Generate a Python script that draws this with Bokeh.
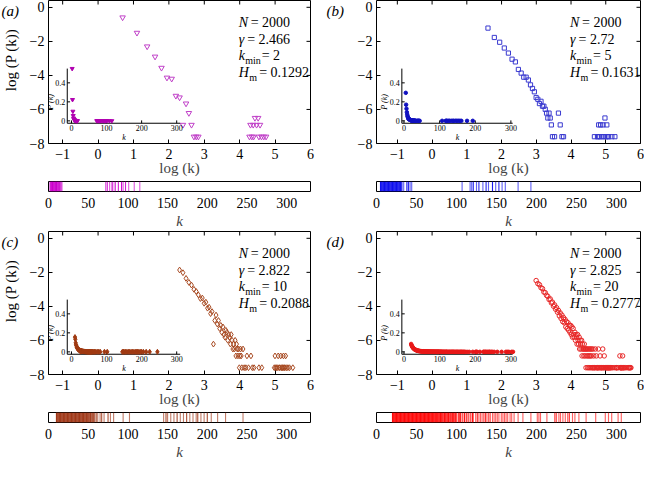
import numpy as np
from bokeh.plotting import figure
from bokeh.layouts import column, row
from bokeh.models import Range1d, Label, FixedTicker, ColumnDataSource
from bokeh.embed import file_html
from bokeh.resources import INLINE
from bokeh.core.properties import value

SERIF = "Liberation Serif"
N_NODES = 2000

# ---------------- data (degree k, number of nodes with degree k) ----------------
deg_a = [2, 3, 4, 5, 6, 7, 8, 9, 10, 11, 12, 13, 14, 15, 16, 17,
         72, 74, 77, 80, 81, 84, 88, 92, 94, 97, 101, 108, 115]
cnt_a = [1100, 446, 200, 110, 57, 32, 30, 11, 10, 2, 7, 4, 2, 1, 1, 1,
         1, 2, 1, 2, 1, 3, 2, 3, 1, 2, 1, 1, 1]

deg_b = [5, 6, 7, 8, 9, 10, 11, 12, 13, 14, 15, 16, 17, 18, 19, 20, 21, 22, 23, 24,
         25, 26, 27, 28, 29, 30, 31, 32, 34, 38, 40, 42, 44,
         107, 117, 119, 121, 125, 128, 133, 137, 140, 145, 149, 153, 157, 161, 177, 193]
cnt_b = [590, 340, 257, 183, 136, 95, 81, 52, 42, 33, 33, 28, 21, 17, 14, 10, 9, 7, 8, 6,
         6, 5, 4, 3, 4, 3, 2, 1, 1, 4, 2, 1, 1,
         1, 1, 1, 2, 1, 2, 1, 2, 1, 3, 1, 2, 1, 1, 1, 1]

deg_c = [10, 11, 12, 13, 14, 15, 16, 17, 18, 19, 20, 21, 22, 23, 24, 25, 26, 27, 28, 29,
         30, 31, 32, 33, 34, 35, 36, 37, 38, 39, 40, 41, 42, 43, 44, 45, 46, 47, 48, 49,
         50, 51, 52, 53, 54, 55, 56, 57, 58,
         60, 62, 65, 67, 70, 75, 78, 82, 94, 102,
         145, 148, 150, 154, 158, 162, 166, 170, 174, 178, 182, 186, 188, 192, 196, 200,
         205, 213, 223, 245]
cnt_c = [311, 265, 190, 150, 128, 100, 88, 72, 58, 60, 44, 47, 33, 35, 24, 27, 4, 16, 22, 13,
         16, 10, 12, 8, 11, 7, 6, 9, 8, 5, 7, 6, 4, 7, 5, 3, 4, 3, 5, 2,
         4, 3, 2, 3, 1, 2, 3, 2, 1,
         3, 1, 1, 2, 1, 2, 1, 1, 1, 1,
         1, 2, 1, 1, 1, 2, 1, 1, 2, 1, 1, 1, 2, 1, 1, 2,
         1, 1, 1, 1]

deg_d = [20, 21, 22, 23, 24, 25, 26, 27, 28, 29, 30, 31, 32, 33, 34, 35, 36, 37, 38, 39,
         40, 41, 42, 43, 44, 45, 46, 47, 48, 49, 50, 51, 52, 53, 54, 55, 56, 57, 58, 59,
         60, 61, 62, 63, 64, 65, 66, 67, 68, 69, 70, 71, 72, 73, 74, 75, 76, 77, 78, 79,
         80, 81, 82, 83, 84, 85, 86, 87, 88, 89, 90, 91, 92, 93, 94, 95,
         96, 97, 98, 99, 100, 102, 103, 104, 105, 107, 108, 110, 112, 113, 115,
         117, 118, 120, 121, 124, 126, 128, 130, 132, 134, 136, 138, 140, 142, 145,
         147, 149, 151, 153, 156, 158, 160, 162, 164, 167, 169, 172, 177, 183, 193,
         201, 203, 205, 213, 223, 225, 228, 230, 233, 236, 239, 241, 245, 248, 253,
         262, 274, 286, 290, 294, 302, 306]
cnt_d = [167, 140, 131, 110, 104, 85, 82, 70, 66, 55, 57, 45, 47, 37, 40, 31, 34, 26, 29, 21,
         25, 18, 22, 15, 19, 14, 17, 11, 15, 10, 14, 9, 12, 8, 12, 7, 11, 6, 10, 7,
         6, 8, 5, 7, 6, 4, 7, 5, 4, 6, 3, 5, 4, 3, 5, 2, 4, 3, 3, 2,
         4, 3, 2, 3, 1, 3, 2, 3, 1, 2, 3, 1, 2, 3, 1, 2,
         3, 1, 2, 3, 1, 1, 3, 1, 2, 1, 1, 3, 1, 2, 1,
         1, 1, 3, 1, 1, 2, 1, 1, 1, 1, 3, 1, 1, 2, 1,
         1, 1, 1, 1, 1, 1, 1, 1, 1, 1, 1, 1, 1, 1, 1,
         1, 1, 1, 1, 2, 1, 1, 1, 1, 1, 1, 2, 1, 1, 1,
         1, 1, 1, 1, 1, 1, 1]

stats_a = ["2000", "2.466", "2", "0.1292"]
stats_b = ["2000", "2.72", "5", "0.1631"]
stats_c = ["2000", "2.822", "10", "0.2088"]
stats_d = ["2000", "2.825", "20", "0.2777"]

main_xticks = [-1, 0, 1, 2, 3, 4, 5, 6]
main_yticks = [-8, -6, -4, -2, 0]
strip_ticks = [0, 50, 100, 150, 200, 250, 300]
inset_xticks = [0, 100, 200, 300]
inset_xlabels = ["0", "100", "200", "300"]
inset_yticks = [0, 0.2, 0.4]
inset_ylabels = ["0", "0.2", "0.4"]

Y_TOP = 0.4
X_END = 6
MAIN_H = 178
FRAME_BOTTOM = 34


def minus(v):
    return str(v).replace("-", "\u2212")


def style_axis(ax, ticks, size="14px"):
    ax.ticker = FixedTicker(ticks=ticks)
    ax.major_label_overrides = {t: minus(t) for t in ticks}
    ax.major_tick_in = 4
    ax.major_tick_out = 0
    ax.minor_tick_line_color = None
    ax.axis_line_color = None
    ax.major_tick_line_color = "black"
    ax.major_label_text_font = SERIF
    ax.major_label_text_font_size = size
    ax.major_label_text_color = "black"
    ax.major_label_standoff = 5


def lab(p, x, y, text, size="14px", italic=False, dx=0):
    p.add_layout(Label(x=x, y=y, text=text, x_offset=dx, text_font=SERIF,
                       text_font_size=size, text_font_style="italic" if italic else "normal",
                       text_baseline="middle", text_align="left", text_color="black"))


def tag_panel(tag, width, tag_x, with_ylabel):
    # narrow strip left of a main panel: holds the panel tag and the y-axis title
    t = figure(width=width, height=MAIN_H, x_range=Range1d(0, width), y_range=Range1d(MAIN_H, 0),
               output_backend="svg", toolbar_location=None, min_border=0,
               min_border_left=0, min_border_right=0, min_border_top=0, min_border_bottom=0)
    t.axis.visible = False
    t.grid.visible = False
    t.outline_line_color = None
    t.text(x=[tag_x], y=[13], text=[tag], text_align="left", text_baseline="middle",
           text_font=value(SERIF), text_font_size="15px", text_font_style="italic",
           text_color="black")
    if with_ylabel:
        t.text(x=[10], y=[74], text=["log (P (k))"], angle=np.pi / 2,
               text_align="center", text_baseline="middle", text_font=value(SERIF),
               text_font_size="15px", text_color="black")
    return t


def main_panel(deg, cnt, color, icolor, marker, msize, imarker, isize, stats,
               xstart, width, bl, br, ixsrc):
    deg = np.asarray(deg, dtype=float)
    cnt = np.asarray(cnt, dtype=float)
    P = cnt / N_NODES
    p = figure(width=width, height=MAIN_H, x_range=Range1d(xstart, X_END), y_range=Range1d(-8, Y_TOP),
               output_backend="svg", toolbar_location=None,
               min_border_left=bl, min_border_right=br, min_border_top=0,
               min_border_bottom=FRAME_BOTTOM)
    p.outline_line_color = "black"
    p.outline_line_width = 1
    p.grid.visible = False
    style_axis(p.xaxis[0], main_xticks)
    style_axis(p.yaxis[0], main_yticks)
    p.yaxis.major_label_standoff = 4
    p.xaxis.axis_label = "log (k)"
    p.xaxis.axis_label_text_font = SERIF
    p.xaxis.axis_label_text_font_size = "15px"
    p.xaxis.axis_label_text_font_style = "normal"
    p.xaxis.axis_label_standoff = -2

    # mirrored inward ticks on the top and right edges of the box
    p.ray(x=main_xticks, y=[Y_TOP] * len(main_xticks), length=4, length_units="screen",
          angle=-np.pi / 2, line_color="black", line_width=1)
    p.ray(x=[X_END] * len(main_yticks), y=main_yticks, length=4, length_units="screen",
          angle=np.pi, line_color="black", line_width=1)

    p.scatter(np.log(deg), np.log(P), marker=marker, size=msize, fill_color=None,
              line_color=color, line_width=1)

    # statistics text
    x0 = 3.97
    ys = [-0.9, -1.9, -2.85, -3.85]
    lab(p, x0, ys[0], "N", italic=True)
    lab(p, x0, ys[0], "= " + stats[0], dx=12)
    lab(p, x0, ys[1], "\u03b3", italic=True)
    lab(p, x0, ys[1], "= " + stats[1], dx=8.5)
    lab(p, x0, ys[2], "k", italic=True)
    lab(p, x0, ys[2] - 0.27, "min", size="10px", dx=6.5)
    lab(p, x0, ys[2], "= " + stats[2], dx=23)
    lab(p, x0, ys[3], "H", italic=True)
    lab(p, x0, ys[3] - 0.27, "m", size="10px", dx=10.5)
    lab(p, x0, ys[3], "= " + stats[3], dx=20.5)

    # inset: P(k) against k
    xs0, xs1 = ixsrc
    ys0, ys1 = -0.025, 0.55
    sub = p.subplot(x_source=Range1d(xs0, xs1), y_source=Range1d(ys0, ys1),
                    x_target=Range1d(-0.87, 2.32), y_target=Range1d(-6.81, -3.6))
    sub.segment(x0=[xs0, xs0], y0=[ys0, ys0], x1=[xs1, xs0], y1=[ys0, ys1],
                line_color="black", line_width=1)
    sub.segment(x0=inset_xticks, y0=[ys0] * 4, x1=inset_xticks, y1=[ys0 + 0.03] * 4,
                line_color="black", line_width=1)
    sub.segment(x0=[xs0] * 3, y0=inset_yticks, x1=[xs0 + 8] * 3, y1=inset_yticks,
                line_color="black", line_width=1)
    sub.text(x=inset_xticks, y=[ys0] * 4, text=inset_xlabels, text_align="center",
             text_baseline="top", y_offset=2, text_font=value(SERIF),
             text_font_size="8px", text_color="black")
    sub.text(x=[xs0] * 3, y=inset_yticks, text=inset_ylabels, text_align="right",
             text_baseline="middle", x_offset=-2, text_font=value(SERIF),
             text_font_size="8px", text_color="black")
    sub.text(x=[150], y=[ys0], text=["k"], text_align="center", text_baseline="top",
             y_offset=10, text_font=value(SERIF), text_font_size="8px",
             text_font_style="italic", text_color="black")
    sub.text(x=[xs0], y=[0.2], text=["P (k)"], text_align="center", text_baseline="middle",
             x_offset=-17, angle=np.pi / 2, text_font=value(SERIF), text_font_size="8px",
             text_font_style="italic", text_color="black")
    sub.scatter(deg, P, marker=imarker, size=isize, fill_color=icolor, line_color=icolor)
    return p


def strip_panel(deg, cnt, color, bl, br):
    deg = np.asarray(deg, dtype=float)
    cnt = np.asarray(cnt, dtype=float)
    src = ColumnDataSource(dict(k=deg, a=1 - 0.35 ** cnt))
    s = figure(width=322, height=53, x_range=Range1d(0, 330), y_range=Range1d(0, 1),
               output_backend="svg", toolbar_location=None,
               min_border_left=bl, min_border_right=br, min_border_top=3, min_border_bottom=37)
    s.outline_line_color = "black"
    s.outline_line_width = 1
    s.grid.visible = False
    s.yaxis.visible = False
    s.vbar(x="k", top=1, bottom=0, width=1.4, fill_color=color, fill_alpha="a",
           line_color=None, source=src)
    ax = s.xaxis[0]
    style_axis(ax, strip_ticks)
    ax.major_tick_in = 0
    ax.major_label_standoff = 6
    ax.axis_label = "k"
    ax.axis_label_text_font = SERIF
    ax.axis_label_text_font_size = "15px"
    ax.axis_label_text_font_style = "italic"
    ax.axis_label_standoff = 2
    return s


# left column: tag strip 22 px + main 300 px (frame 262); right: 24 + 298 (frame 264)
TL, TR = 22, 24
LB, LR = 48, 12
RB, RR = 54, 4

pa = main_panel(deg_a, cnt_a, "#c040c8", "#b000b0", "inverted_triangle", 5.5,
                "inverted_triangle", 4, stats_a, -1.4, 322 - TL, LB - TL, LR, (-12, 310))
pb = main_panel(deg_b, cnt_b, "#3a3ad0", "#1010c0", "square", 4.2,
                "circle", 3.5, stats_b, -1.6, 322 - TR, RB - TR, RR, (-6, 305))
pc = main_panel(deg_c, cnt_c, "#a84a22", "#a03a12", "diamond", 5.8,
                "diamond", 5, stats_c, -1.4, 322 - TL, LB - TL, LR, (-12, 310))
pd = main_panel(deg_d, cnt_d, "#e82828", "#e81818", "circle", 4.5,
                "circle", 3.5, stats_d, -1.6, 322 - TR, RB - TR, RR, (-6, 305))

ta = tag_panel("(a)", TL, 1, True)
tb = tag_panel("(b)", TR, 4, False)
tc = tag_panel("(c)", TL, 1, True)
td = tag_panel("(d)", TR, 4, False)

sa = strip_panel(deg_a, cnt_a, "#cc00cc", LB, LR)
sb = strip_panel(deg_b, cnt_b, "#1010ee", RB, RR)
sc = strip_panel(deg_c, cnt_c, "#a03818", LB, LR)
sd = strip_panel(deg_d, cnt_d, "#ff0a0a", RB, RR)

layout = column(row(ta, pa, tb, pb), row(sa, sb), row(tc, pc, td, pd), row(sc, sd))

with open("out.html", "w") as f:
    f.write(file_html(layout, INLINE))
